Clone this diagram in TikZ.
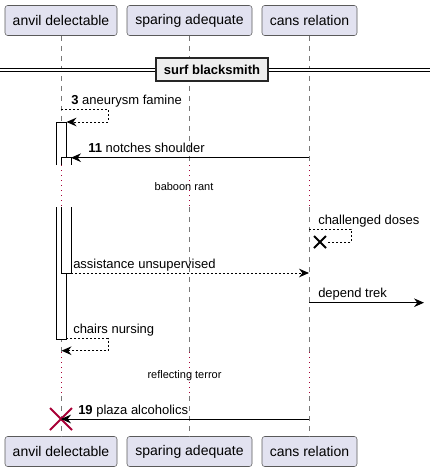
\documentclass[tikz,border=0pt]{standalone}
\usepackage{fontspec}
\setmainfont{Liberation Sans}
\usetikzlibrary{arrows.meta,positioning,calc,shapes.misc}
\definecolor{partfill}{RGB}{226,226,240}
\definecolor{partline}{RGB}{90,90,90}
\definecolor{lifegray}{RGB}{120,120,120}
\definecolor{delayred}{RGB}{168,0,54}
\definecolor{divfill}{RGB}{238,238,238}
\begin{document}
\begin{tikzpicture}[
  x=0.75pt,y=-0.75pt,
  font=\fontsize{9.75}{11}\selectfont,
  part/.style={draw=partline,fill=partfill,rounded corners=2pt,minimum height=22.5pt,inner sep=0pt,font=\fontsize{10.5}{12}\selectfont},
  life/.style={draw=lifegray,dash pattern=on 3.75pt off 3.75pt},
  delay/.style={draw=delayred,line width=0.75pt,dash pattern=on 0.75pt off 3pt},
  divbox/.style={draw=black!85,fill=divfill,line width=1.5pt,minimum width=84pt,minimum height=17.5pt,inner sep=0pt,font=\bfseries\fontsize{9.75}{11}\selectfont},
  actbar/.style={draw=black,line width=0.75pt},
  msg/.style={-{Stealth[length=7.5pt,width=6.5pt,inset=2.5pt]},line width=0.75pt},
  retmsg/.style={msg,dash pattern=on 1.5pt off 1.5pt},
  lbl/.style={anchor=base west,inner sep=0pt},
  dlbl/.style={font=\fontsize{8.25}{10}\selectfont,inner sep=0pt},
  lostx/.style={cross out,draw=black,line width=1.5pt,minimum size=7.5pt,inner sep=0pt},
  killx/.style={cross out,draw=delayred,line width=1.5pt,minimum size=15pt,inner sep=0pt}
]
\useasboundingbox (0,0) rectangle (430,472);
% participants
\node[part,minimum width=84pt] (anvT) at (61,20.5) {anvil delectable};
\node[part,minimum width=93.75pt] (spaT) at (189.5,20.5) {sparing adequate};
\node[part,minimum width=71.25pt] (canT) at (309.5,20.5) {cans relation};
\node[part,minimum width=84pt] (anvB) at (61,451.5) {anvil delectable};
\node[part,minimum width=93.75pt] (spaB) at (189.5,451.5) {sparing adequate};
\node[part,minimum width=71.25pt] (canB) at (309.5,451.5) {cans relation};
% delays
\coordinate (d1s) at (0,165);
\coordinate (d1e) at (0,207);
\coordinate (d2s) at (0,352);
\coordinate (d2e) at (0,396);
\foreach \p/\q in {anvT/anvB,spaT/spaB,canT/canB}{
  \draw[life] (\p.south) -- (\p.south |- d1s);
  \draw[delay] (\p.south |- d1s) -- (\p.south |- d1e);
  \draw[life] (\p.south |- d1e) -- (\p.south |- d2s);
  \draw[delay] (\p.south |- d2s) -- (\p.south |- d2e);
  \draw[life] (\p.south |- d2e) -- (\q.north);
}
\node[dlbl] (rant) at (184,187) {baboon rant};
\node[dlbl] (terror) at (184.5,376) {reflecting terror};
% divider
\coordinate (lft) at (0,70);
\coordinate (rgt) at (430,70);
\draw[double,double distance=1.5pt,line width=0.75pt] (lft) -- (rgt);
\node[divbox] (div) at (212,69.5) {surf blacksmith};
% activations
\fill[white] (56,122) rectangle (66,165);
\draw[actbar] (56,165) -- (56,122) -- (66,122) -- (66,165);
\fill[white] (56,207) rectangle (66,339);
\draw[actbar] (56,207) -- (56,339) -- (66,339) -- (66,207);
\fill[white] (61,157.7) rectangle (71,165);
\draw[actbar] (61,165) -- (61,157.7) -- (71,157.7) -- (71,165);
\fill[white] (61,207) rectangle (71,273);
\draw[actbar] (61,207) -- (61,273) -- (71,273) -- (71,207);
% messages
\coordinate (m3a) at (61,109);
\coordinate (m3b) at (66.5,122);
\draw[retmsg] (m3a) -- ++(47,0) |- (m3b);
\node[lbl] (l3) at (71,104) {\textbf{3} aneurysm famine};
\coordinate (m11a) at (309,157.7);
\coordinate (m11b) at (71,157.7);
\draw[msg] (m11a) -- (m11b);
\node[lbl] (l11) at (88,152.7) {\textbf{11} notches shoulder};
\coordinate (mcd) at (309,229);
\node[lostx] (lost) at (320,242) {};
\draw[line width=0.75pt,dash pattern=on 1.5pt off 1.5pt] (mcd) -- ++(42,0) |- (lost);
\node[lbl] (lcd) at (318,224) {challenged doses};
\coordinate (mau) at (71,273);
\coordinate (mauEnd) at (309,273);
\draw[retmsg] (mau) -- (mauEnd);
\node[lbl] (lau) at (73,268) {assistance unsupervised};
\coordinate (mdt) at (309,302.7);
\coordinate (mdtEnd) at (424,302.7);
\draw[msg] (mdt) -- (mdtEnd);
\node[lbl] (ldt) at (318,297.7) {depend trek};
\coordinate (mcn) at (66,338.7);
\coordinate (mcnEnd) at (61.5,350.7);
\draw[retmsg] (mcn) -- ++(42,0) |- (mcnEnd);
\node[lbl] (lcn) at (73,333.7) {chairs nursing};
\coordinate (m19) at (309,419);
\node[killx] (kill) at (61,419) {};
\draw[msg] (m19) -- (kill.center);
\node[lbl] (l19) at (78,414) {\textbf{19} plaza alcoholics};
\end{tikzpicture}
\end{document}
